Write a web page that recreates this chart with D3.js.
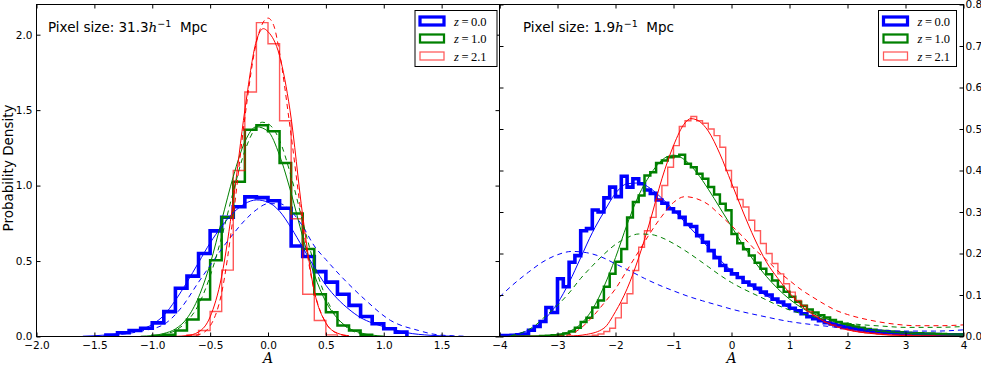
<!DOCTYPE html>
<html>
<head>
<meta charset="utf-8">
<script src="https://cdn.jsdelivr.net/npm/d3@7"></script>
<style>
  body { margin: 0; background: #fff; }
  svg { display: block; font-family: "DejaVu Sans", sans-serif; }
</style>
</head>
<body>
<div id="viz"></div>
<script>
// ---------- data ----------
const binWidth = 0.1;
const redshifts = ['0.0', '1.0', '2.1'];

// left panel: pixel size 31.3 h^-1 Mpc, histogram starts (left edge of first bin)
const leftStart = [-1.4, -1.0, -0.7];
const leftHistZ0 = [0.01, 0.025, 0.04, 0.055, 0.09, 0.165, 0.32, 0.40, 0.55, 0.70, 0.79, 0.86, 0.925,
  0.92, 0.90, 0.85, 0.60, 0.53, 0.43, 0.36, 0.28, 0.206, 0.133, 0.084, 0.051, 0.029];
const leftHistZ1 = [0.005, 0.011, 0.04, 0.113, 0.245, 0.505, 0.79, 1.025, 1.37, 1.40, 1.36, 1.15,
  0.815, 0.58, 0.28, 0.16, 0.073, 0.04, 0.011];
const leftHistZ2 = [0.01, 0.04, 0.166, 0.44, 1.10, 1.62, 2.08, 1.94, 1.43, 0.78, 0.28, 0.106, 0.011];

// left panel model curves (solid) and gaussians (dashed): [A, density]
const leftFitZ0 = [[-1.6, 0.002], [-1.4, 0.01], [-1.2, 0.03], [-1.0, 0.08], [-0.9, 0.14], [-0.8, 0.24],
  [-0.7, 0.36], [-0.6, 0.49], [-0.5, 0.62], [-0.4, 0.73], [-0.3, 0.82], [-0.2, 0.88], [-0.1, 0.905],
  [0, 0.89], [0.1, 0.83], [0.2, 0.72], [0.3, 0.59], [0.4, 0.46], [0.5, 0.34], [0.6, 0.25], [0.7, 0.18],
  [0.8, 0.125], [0.9, 0.09], [1.0, 0.065], [1.2, 0.025], [1.4, 0.008], [1.6, 0.002]];
const leftGaussZ0 = [[-1.5, 0.003], [-1.3, 0.012], [-1.1, 0.035], [-0.9, 0.08], [-0.75, 0.19], [-0.6, 0.36],
  [-0.5, 0.47], [-0.4, 0.58], [-0.3, 0.68], [-0.2, 0.77], [-0.1, 0.84], [0, 0.88], [0.1, 0.88], [0.2, 0.83],
  [0.3, 0.73], [0.4, 0.6], [0.5, 0.51], [0.63, 0.4], [0.83, 0.25], [1.06, 0.106], [1.3, 0.04], [1.46, 0.012],
  [1.7, 0.002]];
const leftFitZ1 = [[-1.1, 0.002], [-1.0, 0.006], [-0.9, 0.02], [-0.8, 0.05], [-0.7, 0.12], [-0.6, 0.26],
  [-0.5, 0.48], [-0.4, 0.77], [-0.3, 1.06], [-0.2, 1.29], [-0.1, 1.39], [0, 1.36], [0.1, 1.2], [0.2, 0.95],
  [0.3, 0.66], [0.4, 0.41], [0.5, 0.23], [0.6, 0.12], [0.7, 0.055], [0.8, 0.024], [0.9, 0.009], [1.0, 0.003]];
const leftGaussZ1 = [[-1.0, 0.004], [-0.9, 0.014], [-0.8, 0.04], [-0.7, 0.1], [-0.6, 0.21], [-0.5, 0.4],
  [-0.4, 0.66], [-0.3, 0.96], [-0.2, 1.23], [-0.1, 1.39], [-0.05, 1.42], [0, 1.41], [0.1, 1.3], [0.2, 1.06],
  [0.3, 0.76], [0.4, 0.48], [0.5, 0.26], [0.6, 0.12], [0.7, 0.05], [0.8, 0.017], [0.9, 0.005]];
const leftFitZ2 = [[-0.8, 0.001], [-0.7, 0.006], [-0.6, 0.03], [-0.5, 0.13], [-0.4, 0.4], [-0.3, 0.9],
  [-0.2, 1.5], [-0.1, 1.96], [-0.04, 2.04], [0, 2.02], [0.1, 1.86], [0.19, 1.5], [0.3, 0.8], [0.4, 0.3],
  [0.5, 0.09], [0.6, 0.022], [0.7, 0.005]];
const leftGaussZ2 = [[-0.7, 0.002], [-0.6, 0.012], [-0.5, 0.07], [-0.4, 0.29], [-0.3, 0.8], [-0.2, 1.45],
  [-0.1, 1.95], [0, 2.11], [0.05, 2.06], [0.1, 1.88], [0.19, 1.39], [0.3, 0.74], [0.4, 0.3], [0.5, 0.09],
  [0.6, 0.02], [0.7, 0.003]];

// right panel: pixel size 1.9 h^-1 Mpc, 80 bins from -4 to 4
const rightStart = [-4.0, -4.0, -4.0];
const rightHistZ0 = [0.002, 0.002, 0.003, 0.004, 0.006, 0.015, 0.024, 0.036, 0.07, 0.058,
  0.139, 0.12, 0.179, 0.195, 0.255, 0.26, 0.305, 0.30, 0.334, 0.36,
  0.337, 0.386, 0.36, 0.38, 0.368, 0.353, 0.345, 0.329, 0.321, 0.308,
  0.30, 0.287, 0.27, 0.265, 0.243, 0.227, 0.207, 0.19, 0.171, 0.16,
  0.151, 0.142, 0.131, 0.124, 0.116, 0.107, 0.10, 0.09, 0.083, 0.076,
  0.068, 0.062, 0.055, 0.048, 0.043, 0.038, 0.033, 0.03, 0.026, 0.022,
  0.02, 0.018, 0.016, 0.014, 0.012, 0.011, 0.01, 0.009, 0.008, 0.008,
  0.007, 0.006, 0.006, 0.005, 0.005, 0.005, 0.004, 0.004, 0.004, 0.004];
const rightHistZ1 = [0, 0, 0, 0, 0, 0, 0, 0.001, 0.002, 0.003,
  0.004, 0.007, 0.012, 0.021, 0.035, 0.045, 0.07, 0.087, 0.12, 0.151,
  0.18, 0.211, 0.287, 0.324, 0.34, 0.388, 0.396, 0.418, 0.424, 0.432,
  0.434, 0.438, 0.416, 0.408, 0.392, 0.38, 0.36, 0.342, 0.32, 0.304,
  0.247, 0.225, 0.21, 0.195, 0.178, 0.163, 0.15, 0.135, 0.12, 0.108,
  0.096, 0.084, 0.074, 0.065, 0.058, 0.051, 0.046, 0.04, 0.035, 0.031,
  0.027, 0.024, 0.021, 0.018, 0.016, 0.014, 0.013, 0.012, 0.011, 0.01,
  0.009, 0.008, 0.008, 0.007, 0.007, 0.006, 0.006, 0.005, 0.005, 0.005];
const rightHistZ2 = [0, 0, 0, 0, 0, 0, 0, 0, 0, 0,
  0, 0, 0, 0, 0, 0.001, 0.003, 0.006, 0.012, 0.02,
  0.045, 0.08, 0.103, 0.159, 0.215, 0.255, 0.287, 0.33, 0.364, 0.408,
  0.46, 0.506, 0.52, 0.53, 0.52, 0.514, 0.50, 0.484, 0.456, 0.40,
  0.36, 0.33, 0.312, 0.28, 0.255, 0.224, 0.20, 0.176, 0.151, 0.127,
  0.107, 0.087, 0.075, 0.06, 0.05, 0.042, 0.035, 0.028, 0.023, 0.019,
  0.016, 0.013, 0.011, 0.009, 0.008, 0.006, 0.005, 0.004, 0.004, 0.003,
  0.003, 0.002, 0.002, 0.002, 0.002, 0.001, 0.001, 0.001, 0.001, 0.001];

const rightFitZ0 = [[-4, 0.001], [-3.8, 0.004], [-3.6, 0.01], [-3.4, 0.022], [-3.2, 0.045], [-3.0, 0.08],
  [-2.8, 0.13], [-2.6, 0.19], [-2.4, 0.25], [-2.2, 0.30], [-2.0, 0.345], [-1.8, 0.368], [-1.6, 0.37],
  [-1.4, 0.357], [-1.2, 0.333], [-1.0, 0.305], [-0.8, 0.275], [-0.6, 0.245], [-0.4, 0.215], [-0.2, 0.185],
  [0, 0.158], [0.2, 0.135], [0.5, 0.107], [0.8, 0.083], [1.0, 0.069], [1.5, 0.042], [2.0, 0.025],
  [2.5, 0.015], [3.0, 0.009], [3.5, 0.005], [4.0, 0.003]];
const rightGaussZ0 = [[-4, 0.095], [-3.75, 0.127], [-3.5, 0.155], [-3.25, 0.18], [-3.0, 0.197], [-2.75, 0.205],
  [-2.5, 0.202], [-2.25, 0.192], [-2.0, 0.175], [-1.75, 0.158], [-1.5, 0.14], [-1.25, 0.124], [-1.0, 0.11],
  [-0.75, 0.097], [-0.5, 0.086], [-0.25, 0.076], [0, 0.066], [0.5, 0.05], [1.0, 0.036], [1.5, 0.027],
  [2.0, 0.02], [2.5, 0.016], [3.0, 0.013], [3.5, 0.013], [4.0, 0.016]];
const rightFitZ1 = [[-3.4, 0], [-3.2, 0.002], [-3.0, 0.005], [-2.8, 0.012], [-2.6, 0.03], [-2.4, 0.065],
  [-2.2, 0.12], [-2.0, 0.19], [-1.8, 0.27], [-1.6, 0.34], [-1.4, 0.39], [-1.2, 0.425], [-1.0, 0.437],
  [-0.8, 0.425], [-0.6, 0.395], [-0.4, 0.355], [-0.2, 0.31], [0, 0.265], [0.2, 0.22], [0.4, 0.18],
  [0.6, 0.145], [0.8, 0.115], [1.0, 0.09], [1.2, 0.07], [1.5, 0.05], [2.0, 0.027], [2.5, 0.015],
  [3.0, 0.008], [3.5, 0.005], [4.0, 0.003]];
const rightGaussZ1 = [[-3.8, 0.002], [-3.6, 0.01], [-3.4, 0.025], [-3.2, 0.05], [-3.0, 0.075], [-2.8, 0.105],
  [-2.6, 0.14], [-2.4, 0.17], [-2.2, 0.198], [-2.0, 0.222], [-1.8, 0.238], [-1.6, 0.247], [-1.4, 0.246],
  [-1.2, 0.238], [-1.0, 0.224], [-0.8, 0.207], [-0.6, 0.188], [-0.4, 0.168], [-0.2, 0.148], [0, 0.13],
  [0.2, 0.115], [0.5, 0.095], [0.8, 0.075], [1.0, 0.064], [1.4, 0.048], [1.8, 0.036], [2.2, 0.029],
  [2.6, 0.025], [3.0, 0.022], [3.5, 0.022], [4.0, 0.024]];
const rightFitZ2 = [[-2.8, 0.001], [-2.5, 0.005], [-2.2, 0.02], [-2.0, 0.06], [-1.8, 0.115], [-1.6, 0.19],
  [-1.4, 0.28], [-1.2, 0.38], [-1.0, 0.46], [-0.8, 0.515], [-0.7, 0.525], [-0.6, 0.522], [-0.4, 0.495],
  [-0.2, 0.44], [0, 0.37], [0.2, 0.3], [0.4, 0.235], [0.6, 0.18], [0.8, 0.14], [1.0, 0.105], [1.2, 0.075],
  [1.4, 0.053], [1.6, 0.036], [1.8, 0.024], [2.0, 0.016], [2.5, 0.006], [3.0, 0.002], [4.0, 0.0]];
const rightGaussZ2 = [[-3.0, 0.0], [-2.8, 0.004], [-2.6, 0.02], [-2.4, 0.047], [-2.2, 0.08], [-2.0, 0.115],
  [-1.8, 0.16], [-1.6, 0.205], [-1.4, 0.25], [-1.2, 0.29], [-1.0, 0.323], [-0.8, 0.337], [-0.6, 0.332],
  [-0.4, 0.318], [-0.2, 0.293], [0, 0.267], [0.2, 0.24], [0.4, 0.21], [0.6, 0.185], [0.8, 0.158],
  [1.0, 0.135], [1.2, 0.113], [1.4, 0.095], [1.6, 0.078], [1.8, 0.063], [2.0, 0.053], [2.4, 0.039],
  [2.8, 0.03], [3.2, 0.026], [3.6, 0.026], [4.0, 0.028]];

// tick values
const leftXTicks = [-2, -1.5, -1, -0.5, 0, 0.5, 1, 1.5, 2];
const leftYTicks = [0, 0.5, 1, 1.5, 2];
const rightXTicks = [-4, -3, -2, -1, 0, 1, 2, 3, 4];
const rightYTicks = [0, 0.1, 0.2, 0.3, 0.4, 0.5, 0.6, 0.7, 0.8];

// ---------- drawing ----------
const styles = [
  {color: '#0000ff', width: 3.6, opacity: 1},
  {color: '#008000', width: 2.5, opacity: 1},
  {color: '#ff0000', width: 1.4, opacity: 0.65}
];

const svg = d3.select('#viz').append('svg')
  .attr('width', 981)
  .attr('height', 368);

const plotTop = 4.5, plotBottom = 336.5;

drawPanel({
  id: 'L', x0: 36.5, x1: 499.5, xDomain: [-2, 2], yDomain: [0, 2.2],
  xTicks: leftXTicks, yTicks: leftYTicks,
  xFormat: d => d === 2 ? '' : d3.format('.1f')(d),
  yFormat: d3.format('.1f'), yLabelSide: 'left',
  starts: leftStart, hists: [leftHistZ0, leftHistZ1, leftHistZ2],
  fits: [leftFitZ0, leftFitZ1, leftFitZ2], gauss: [leftGaussZ0, leftGaussZ1, leftGaussZ2],
  title: '31.3', titleX: 48, legendX: 415, legendW: 82
});

drawPanel({
  id: 'R', x0: 499.5, x1: 963.5, xDomain: [-4, 4], yDomain: [0, 0.8],
  xTicks: rightXTicks, yTicks: rightYTicks,
  xFormat: d3.format('d'),
  yFormat: d3.format('.1f'), yLabelSide: 'right',
  starts: rightStart, hists: [rightHistZ0, rightHistZ1, rightHistZ2],
  fits: [rightFitZ0, rightFitZ1, rightFitZ2], gauss: [rightGaussZ0, rightGaussZ1, rightGaussZ2],
  title: '1.9', titleX: 523, legendX: 878.5, legendW: 78
});

// y axis title
svg.append('text')
  .attr('transform', 'translate(13,168) rotate(-90)')
  .attr('text-anchor', 'middle')
  .style('font-size', '13.5px')
  .text('Probability Density');

function drawPanel(p) {
  const x = d3.scaleLinear().domain(p.xDomain).range([p.x0, p.x1]);
  const y = d3.scaleLinear().domain(p.yDomain).range([plotBottom, plotTop]);
  const g = svg.append('g');

  g.append('clipPath').attr('id', 'clip' + p.id)
    .append('rect')
    .attr('x', p.x0).attr('y', plotTop)
    .attr('width', p.x1 - p.x0).attr('height', plotBottom - plotTop);

  const plot = g.append('g').attr('clip-path', 'url(#clip' + p.id + ')');

  // step histograms
  const stepLine = d3.line()
    .x(d => x(d[0]))
    .y(d => y(d[1]))
    .curve(d3.curveStepAfter);

  p.hists.forEach((vals, i) => {
    const pts = [[p.starts[i], 0]];
    vals.forEach((v, k) => pts.push([p.starts[i] + k * binWidth, v]));
    pts.push([p.starts[i] + vals.length * binWidth, 0]);
    plot.append('path')
      .attr('d', stepLine(pts))
      .attr('fill', 'none')
      .attr('stroke', styles[i].color)
      .attr('stroke-width', styles[i].width)
      .attr('stroke-opacity', styles[i].opacity)
      .attr('stroke-linejoin', 'miter');
  });

  // model curves
  const smooth = d3.line()
    .x(d => x(d[0]))
    .y(d => y(d[1]))
    .curve(d3.curveMonotoneX);

  p.fits.forEach((pts, i) => {
    plot.append('path')
      .attr('d', smooth(pts))
      .attr('fill', 'none')
      .attr('stroke', styles[i].color)
      .attr('stroke-width', 1);
  });
  p.gauss.forEach((pts, i) => {
    plot.append('path')
      .attr('d', smooth(pts))
      .attr('fill', 'none')
      .attr('stroke', styles[i].color)
      .attr('stroke-width', 1)
      .attr('stroke-dasharray', '5,4');
  });

  // axes (inward ticks on all four sides)
  const fs = '10.5px';
  const xb = g.append('g').attr('transform', 'translate(0,' + plotBottom + ')')
    .call(d3.axisBottom(x).tickValues(p.xTicks).tickFormat(p.xFormat).tickSize(-4).tickPadding(5));
  const xt = g.append('g').attr('transform', 'translate(0,' + plotTop + ')')
    .call(d3.axisTop(x).tickValues(p.xTicks).tickFormat('').tickSize(-4));
  const yl = g.append('g').attr('transform', 'translate(' + p.x0 + ',0)')
    .call(d3.axisLeft(y).tickValues(p.yTicks)
      .tickFormat(p.yLabelSide === 'left' ? p.yFormat : '').tickSize(-4).tickPadding(4));
  const yr = g.append('g').attr('transform', 'translate(' + p.x1 + ',0)')
    .call(d3.axisRight(y).tickValues(p.yTicks)
      .tickFormat(p.yLabelSide === 'right' ? p.yFormat : '').tickSize(-4).tickPadding(2));
  [xb, xt, yl, yr].forEach(a => {
    a.select('.domain').remove();
    a.selectAll('text').style('font-size', fs).style('font-family', '"DejaVu Sans", sans-serif').attr('fill', '#000');
    a.selectAll('line').attr('stroke', '#000');
  });

  // frame
  g.append('rect')
    .attr('x', p.x0).attr('y', plotTop)
    .attr('width', p.x1 - p.x0).attr('height', plotBottom - plotTop)
    .attr('fill', 'none').attr('stroke', '#000').attr('stroke-width', 1);

  // x label
  g.append('text')
    .attr('x', x(0)).attr('y', 363)
    .attr('text-anchor', 'middle')
    .style('font-family', '"DejaVu Serif", serif')
    .style('font-style', 'italic')
    .style('font-size', '14px')
    .text('A');

  // panel annotation
  const t = g.append('text')
    .attr('x', p.titleX).attr('y', 32)
    .style('font-size', '13.5px');
  t.append('tspan').text('Pixel size: ' + p.title);
  t.append('tspan').style('font-family', '"DejaVu Serif", serif').style('font-style', 'italic').text('h');
  t.append('tspan').attr('dy', -5).style('font-size', '9.5px').text('\u22121');
  t.append('tspan').attr('dy', 5).text('\u00a0 Mpc');

  // legend
  const leg = g.append('g').attr('transform', 'translate(' + p.legendX + ',10.5)');
  leg.append('rect')
    .attr('width', p.legendW).attr('height', 56)
    .attr('fill', '#fff').attr('stroke', '#000').attr('stroke-width', 1);
  redshifts.forEach((z, i) => {
    const cy = 10.5 + i * 17.5;
    leg.append('rect')
      .attr('x', 5).attr('y', cy - 4)
      .attr('width', 24).attr('height', 8)
      .attr('fill', '#fff')
      .attr('stroke', styles[i].color)
      .attr('stroke-width', styles[i].width * 0.9)
      .attr('stroke-opacity', styles[i].opacity);
    const tx = leg.append('text')
      .attr('x', 39).attr('y', cy + 4.5)
      .style('font-family', '"Liberation Serif", serif')
      .style('font-size', '12.5px');
    tx.append('tspan').style('font-style', 'italic').text('z');
    tx.append('tspan').text('\u2009=\u2009' + z);
  });
}
</script>
</body>
</html>
